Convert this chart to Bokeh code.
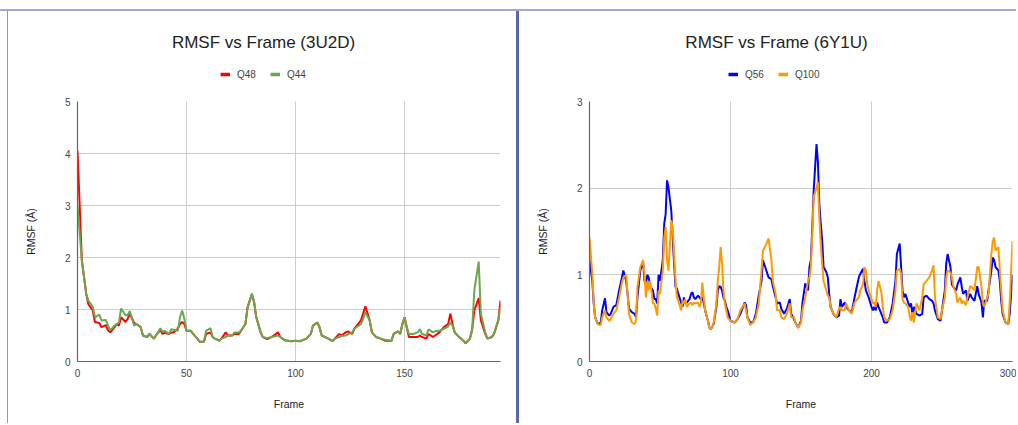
from bokeh.plotting import figure
from bokeh.models import Range1d, Label, Legend, LegendItem, Spacer
from bokeh.layouts import row, column
from bokeh.embed import file_html
from bokeh.resources import INLINE

FONT = "Liberation Sans"

# ---------------- data: 3U2D ----------------
frames_3u2d = [0, 2, 4, 5, 7, 8, 10, 11, 13, 14,
               15, 17, 18, 19, 20, 22, 23, 24, 26, 27,
               29, 30, 32, 33, 35, 36, 38, 39, 40, 42,
               43, 44, 46, 47, 48, 49, 50, 52, 53, 55,
               56, 58, 59, 61, 62, 63, 65, 66, 68, 69,
               71, 72, 74, 75, 77, 78, 80, 81, 82, 84,
               85, 87, 89, 92, 93, 95, 98, 100, 102, 105,
               107, 108, 110, 111, 112, 115, 117, 118, 120, 121,
               123, 124, 126, 127, 130, 131, 132, 134, 135, 137,
               139, 141, 144, 145, 147, 148, 149, 150, 151, 152,
               154, 156, 157, 158, 160, 161, 163, 164, 166, 168,
               170, 171, 172, 173, 175, 177, 178, 180, 181, 182,
               184, 185, 187, 188, 190, 191, 193, 194]
q48 = [4.05, 1.94, 1.30, 1.10, 0.98, 0.76, 0.74, 0.66, 0.70, 0.60,
       0.56, 0.66, 0.72, 0.69, 0.85, 0.76, 0.82, 0.92, 0.74, 0.72,
       0.66, 0.50, 0.47, 0.53, 0.44, 0.50, 0.61, 0.53, 0.55, 0.53,
       0.56, 0.56, 0.63, 0.72, 0.76, 0.72, 0.59, 0.59, 0.53, 0.44,
       0.38, 0.38, 0.53, 0.56, 0.47, 0.44, 0.40, 0.44, 0.56, 0.50,
       0.50, 0.53, 0.53, 0.59, 0.72, 1.04, 1.30, 1.14, 0.85, 0.56,
       0.47, 0.43, 0.47, 0.56, 0.47, 0.41, 0.39, 0.40, 0.39, 0.44,
       0.53, 0.69, 0.75, 0.66, 0.50, 0.44, 0.39, 0.44, 0.53, 0.50,
       0.56, 0.58, 0.53, 0.63, 0.79, 0.92, 1.06, 0.79, 0.56, 0.47,
       0.44, 0.40, 0.40, 0.53, 0.58, 0.53, 0.72, 0.85, 0.66, 0.47,
       0.47, 0.47, 0.50, 0.47, 0.44, 0.53, 0.47, 0.50, 0.56, 0.66,
       0.72, 0.92, 0.72, 0.56, 0.47, 0.40, 0.35, 0.44, 0.62, 0.98,
       1.22, 0.79, 0.53, 0.44, 0.47, 0.53, 0.79, 1.17]
q44 = [3.00, 1.94, 1.30, 1.17, 1.05, 0.85, 0.90, 0.79, 0.80, 0.69,
       0.60, 0.69, 0.72, 0.75, 1.02, 0.89, 0.89, 0.97, 0.69, 0.72,
       0.66, 0.50, 0.47, 0.53, 0.44, 0.50, 0.64, 0.57, 0.59, 0.53,
       0.62, 0.61, 0.59, 0.85, 0.98, 0.82, 0.59, 0.59, 0.53, 0.44,
       0.38, 0.38, 0.59, 0.64, 0.47, 0.44, 0.40, 0.44, 0.47, 0.50,
       0.50, 0.56, 0.56, 0.59, 0.72, 1.04, 1.30, 1.14, 0.85, 0.56,
       0.47, 0.45, 0.47, 0.50, 0.47, 0.41, 0.39, 0.40, 0.39, 0.44,
       0.53, 0.69, 0.75, 0.66, 0.50, 0.44, 0.39, 0.44, 0.47, 0.49,
       0.50, 0.52, 0.56, 0.63, 0.72, 0.82, 0.95, 0.79, 0.56, 0.47,
       0.44, 0.42, 0.40, 0.53, 0.58, 0.53, 0.72, 0.85, 0.66, 0.53,
       0.53, 0.56, 0.62, 0.53, 0.50, 0.62, 0.56, 0.58, 0.59, 0.63,
       0.67, 0.75, 0.69, 0.56, 0.47, 0.40, 0.35, 0.44, 0.62, 1.37,
       1.92, 0.92, 0.56, 0.44, 0.47, 0.53, 0.79, 1.04]

# ---------------- data: 6Y1U ----------------
frames_6y1u = [0, 2, 3, 4, 6, 8, 9, 11, 12, 14,
               15, 17, 19, 21, 23, 24, 26, 27, 28, 30,
               32, 33, 34, 36, 38, 39, 40, 41, 42, 43,
               45, 46, 47, 48, 49, 50, 52, 53, 54, 55,
               56, 58, 59, 60, 61, 62, 63, 65, 66, 67,
               68, 69, 71, 72, 73, 74, 75, 77, 78, 79,
               80, 81, 82, 84, 85, 86, 88, 90, 91, 92,
               93, 94, 95, 96, 97, 98, 100, 103, 105, 107,
               110, 111, 112, 114, 116, 118, 120, 122, 123, 125,
               127, 129, 130, 132, 133, 135, 136, 138, 140, 142,
               143, 145, 146, 148, 150, 151, 153, 155, 156, 157,
               158, 159, 161, 162, 163, 164, 165, 166, 168, 169,
               170, 171, 173, 175, 177, 178, 179, 181, 182, 184,
               186, 188, 189, 191, 192, 194, 195, 196, 197, 198,
               200, 201, 202, 203, 204, 205, 207, 208, 209, 211,
               213, 215, 217, 218, 220, 221, 222, 223, 224, 226,
               227, 228, 229, 230, 232, 234, 236, 237, 239, 241,
               243, 244, 245, 247, 249, 250, 252, 253, 254, 256,
               257, 258, 260, 261, 263, 264, 265, 267, 268, 270,
               271, 273, 275, 276, 278, 279, 280, 282, 283, 285,
               286, 287, 288, 290, 291, 292, 293, 295, 297, 298,
               300]
q56 = [1.17, 0.93, 0.67, 0.51, 0.43, 0.45, 0.59, 0.73, 0.57, 0.53,
       0.55, 0.63, 0.65, 0.82, 0.97, 1.05, 0.93, 0.78, 0.61, 0.57,
       0.55, 0.51, 0.74, 1.05, 1.15, 0.93, 0.89, 1.00, 0.97, 0.87,
       0.82, 0.72, 0.72, 0.67, 1.00, 0.93, 1.17, 1.59, 1.70, 2.09,
       2.01, 1.74, 1.43, 1.13, 0.86, 0.84, 0.78, 0.68, 0.63, 0.74,
       0.67, 0.68, 0.72, 0.78, 0.80, 0.74, 0.72, 0.76, 0.74, 0.72,
       0.74, 0.68, 0.59, 0.47, 0.39, 0.37, 0.43, 0.63, 0.82, 0.87,
       0.86, 0.82, 0.74, 0.70, 0.63, 0.59, 0.47, 0.45, 0.49, 0.55,
       0.68, 0.65, 0.51, 0.45, 0.45, 0.55, 0.76, 0.93, 1.17, 1.07,
       0.97, 0.95, 0.87, 0.74, 0.67, 0.68, 0.61, 0.55, 0.61, 0.72,
       0.55, 0.49, 0.45, 0.39, 0.47, 0.67, 0.90, 0.82, 1.09, 1.17,
       1.55, 1.97, 2.51, 2.30, 1.82, 1.59, 1.40, 1.09, 1.03, 0.97,
       0.78, 0.63, 0.55, 0.51, 0.53, 0.72, 0.63, 0.68, 0.63, 0.59,
       0.57, 0.74, 0.82, 0.97, 1.01, 1.07, 0.93, 0.82, 0.78, 0.74,
       0.63, 0.59, 0.63, 0.59, 0.68, 0.63, 0.55, 0.51, 0.45, 0.45,
       0.51, 0.67, 0.93, 1.24, 1.36, 1.09, 0.82, 0.74, 0.78, 0.68,
       0.63, 0.67, 0.55, 0.63, 0.55, 0.53, 0.55, 0.74, 0.76, 0.72,
       0.70, 0.67, 0.59, 0.49, 0.47, 0.59, 0.82, 1.13, 1.24, 1.09,
       0.89, 0.86, 0.82, 0.89, 0.97, 0.86, 0.78, 0.82, 0.70, 0.78,
       0.74, 0.70, 0.87, 0.78, 0.68, 0.51, 0.70, 0.70, 0.82, 1.05,
       1.20, 1.17, 1.09, 1.05, 0.93, 0.70, 0.55, 0.45, 0.43, 0.55,
       1.00]
q100 = [1.43, 1.01, 0.67, 0.51, 0.43, 0.42, 0.51, 0.59, 0.51, 0.47,
        0.49, 0.55, 0.59, 0.74, 0.91, 0.97, 1.00, 0.78, 0.55, 0.45,
        0.43, 0.47, 0.86, 1.09, 1.17, 1.00, 0.74, 0.93, 0.82, 0.93,
        0.67, 0.67, 0.61, 0.53, 0.82, 0.78, 1.05, 1.43, 1.55, 1.17,
        1.05, 1.63, 1.55, 1.24, 0.93, 0.74, 0.70, 0.59, 0.70, 0.67,
        0.72, 0.63, 0.67, 0.68, 0.65, 0.68, 0.67, 0.68, 0.63, 0.67,
        0.91, 0.74, 0.59, 0.47, 0.39, 0.37, 0.43, 0.67, 0.93, 1.09,
        1.32, 1.13, 0.82, 0.67, 0.59, 0.51, 0.47, 0.45, 0.49, 0.59,
        0.67, 0.59, 0.51, 0.42, 0.45, 0.51, 0.67, 1.05, 1.28, 1.34,
        1.42, 1.17, 0.93, 0.78, 0.59, 0.59, 0.51, 0.49, 0.55, 0.67,
        0.51, 0.51, 0.45, 0.39, 0.45, 0.59, 0.74, 0.93, 0.97, 1.09,
        1.47, 1.90, 2.00, 2.07, 1.66, 1.36, 1.13, 0.93, 0.82, 0.76,
        0.74, 0.63, 0.55, 0.51, 0.61, 0.63, 0.59, 0.59, 0.67, 0.59,
        0.55, 0.68, 0.70, 0.74, 0.82, 0.89, 1.09, 1.05, 0.89, 0.82,
        0.72, 0.67, 0.68, 0.63, 0.82, 0.93, 0.80, 0.63, 0.51, 0.47,
        0.49, 0.59, 0.82, 1.05, 1.07, 1.01, 0.72, 0.68, 0.67, 0.63,
        0.53, 0.47, 0.57, 0.45, 0.67, 0.59, 0.74, 0.89, 0.93, 0.97,
        1.05, 1.11, 0.74, 0.51, 0.49, 0.59, 0.74, 0.97, 1.05, 1.03,
        0.97, 0.87, 0.78, 0.68, 0.74, 0.67, 0.70, 0.65, 0.74, 0.87,
        0.86, 0.82, 1.09, 1.09, 0.86, 0.67, 0.63, 0.74, 0.78, 1.24,
        1.39, 1.43, 1.28, 1.32, 1.05, 0.82, 0.59, 0.45, 0.43, 0.67,
        1.39]

x_ticks_3u2d = [0, 50, 100, 150]
y_ticks_3u2d = [0, 1, 2, 3, 4, 5]
x_ticks_6y1u = [0, 100, 200, 300]
y_ticks_6y1u = [0, 1, 2, 3]

# ---------------- layout constants ----------------
HEAD_H = 80
MAIN_H = 332
MB_TOP = 10
MB_BOTTOM = 62


def make_header(title, names, colors, width, title_cx, legend_x):
    h = figure(width=width, height=HEAD_H, output_backend="svg",
               toolbar_location=None, tools="",
               x_range=Range1d(0, width), y_range=Range1d(0, HEAD_H),
               x_axis_type=None, y_axis_type=None,
               min_border=0, min_border_left=0, min_border_right=0,
               min_border_top=0, min_border_bottom=0)
    h.frame_align = False
    h.outline_line_color = None
    h.xgrid.visible = False
    h.ygrid.visible = False
    h.background_fill_color = "white"
    h.border_fill_color = "white"
    h.add_layout(Label(x=title_cx, y=HEAD_H - 31, text=title, text_align="center",
                       text_baseline="middle", text_font=FONT,
                       text_font_size="17px", text_color="#222222"))
    items = []
    for name, col in zip(names, colors):
        # legend key only: a stub line kept outside the header's visible range
        key = h.line([-20, -10], [-20, -20], line_color=col, line_width=3.5)
        items.append(LegendItem(label=name, renderers=[key]))
    legend = Legend(items=items, location=(legend_x, HEAD_H - 69),
                    orientation="horizontal", glyph_width=10, glyph_height=12,
                    label_height=12, label_standoff=7, spacing=13,
                    padding=0, margin=0, border_line_color=None,
                    background_fill_alpha=0,
                    label_text_font=FONT, label_text_font_size="10px",
                    label_text_color="#444444")
    h.add_layout(legend)
    return h


def make_main(frames, series, colors, x_end, x_ticks, y_ticks, width, mb_left, mb_right):
    y_end = y_ticks[-1]
    p = figure(width=width, height=MAIN_H, output_backend="svg",
               toolbar_location=None, tools="",
               x_range=Range1d(0, x_end), y_range=Range1d(0, y_end),
               min_border_left=mb_left, min_border_right=mb_right,
               min_border_top=MB_TOP, min_border_bottom=MB_BOTTOM)
    p.frame_align = False
    p.outline_line_color = None
    p.background_fill_color = "white"
    p.border_fill_color = "white"
    for ax in (p.xaxis[0], p.yaxis[0]):
        ax.major_tick_line_color = None
        ax.minor_tick_line_color = None
        ax.major_tick_out = 0
        ax.major_tick_in = 0
        ax.minor_tick_out = 0
        ax.minor_tick_in = 0
        ax.axis_line_color = "#666666"
        ax.axis_line_width = 1.2
        ax.major_label_text_font = FONT
        ax.major_label_text_font_size = "10px"
        ax.major_label_text_color = "#444444"
        ax.major_label_standoff = 7
        ax.axis_label_text_font = FONT
        ax.axis_label_text_font_size = "10.5px"
        ax.axis_label_text_font_style = "normal"
        ax.axis_label_text_color = "#222222"
    p.xaxis.ticker = x_ticks
    p.yaxis.ticker = y_ticks
    p.xaxis.axis_label = "Frame"
    p.xaxis.axis_label_standoff = 18
    p.yaxis.axis_label = "RMSF (Å)"
    p.yaxis.axis_label_standoff = 25
    p.xgrid.grid_line_color = "#cccccc"
    p.ygrid.grid_line_color = "#cccccc"
    for vals, col in zip(series, colors):
        p.line(frames, vals, line_color=col, line_width=2)
    return p


colors_3u2d = ["#ff0000", "#6aa84f"]
colors_6y1u = ["#0000ff", "#ff9900"]

h1 = make_header("RMSF vs Frame (3U2D)", ["Q48", "Q44"], colors_3u2d,
                 width=508, title_cx=255, legend_x=212)
p1 = make_main(frames_3u2d, [q48, q44], colors_3u2d, 194, x_ticks_3u2d, y_ticks_3u2d,
               width=508, mb_left=69, mb_right=16)
h2 = make_header("RMSF vs Frame (6Y1U)", ["Q56", "Q100"], colors_6y1u,
                 width=497, title_cx=257, legend_x=209)
p2 = make_main(frames_6y1u, [q56, q100], colors_6y1u, 300, x_ticks_6y1u, y_ticks_6y1u,
               width=497, mb_left=70, mb_right=4)

FULL_H = HEAD_H + MAIN_H
left_gap = Spacer(width=7, height=FULL_H)
left_line = Spacer(width=1, height=FULL_H, styles={"background-color": "#8c96c8"})
mid_line = Spacer(width=3, height=FULL_H, styles={"background-color": "#5866b0"})
top_gap = Spacer(width=1016, height=9)
top_line = Spacer(width=1016, height=2, styles={"background-color": "#9fa8d6"})

layout = column(
    top_gap, top_line,
    row(left_gap, left_line, column(h1, p1, spacing=0), mid_line,
        column(h2, p2, spacing=0), spacing=0),
    spacing=0)

open("out.html", "w").write(file_html(layout, INLINE))
